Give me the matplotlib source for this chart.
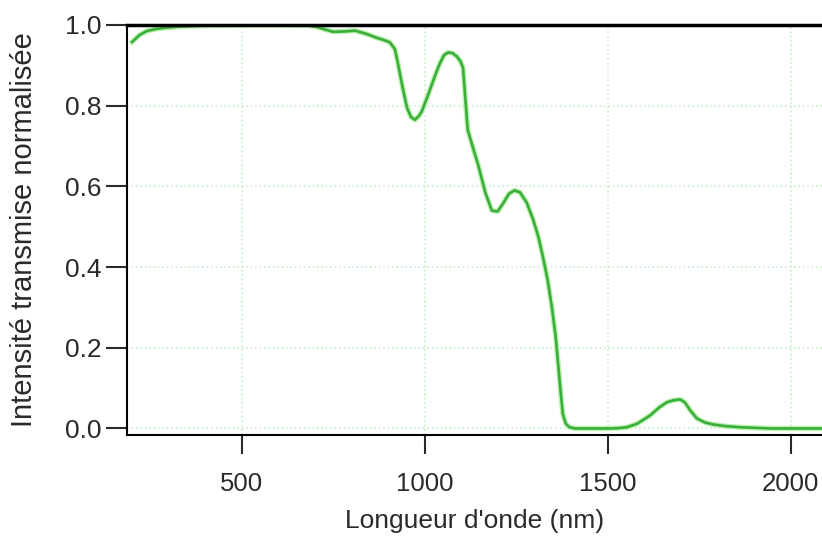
"""Spectre de transmission normalisée."""
import numpy as np
import matplotlib
matplotlib.use("Agg")
import matplotlib.pyplot as plt

plt.rcParams['font.family'] = ['Liberation Sans', 'DejaVu Sans']

# longueur d'onde (nm) et intensité
wavelength = [200, 220, 240, 265, 290, 330, 385, 500, 600, 680, 705, 730,
              749, 780, 809, 840, 869, 890, 904, 918, 926, 938, 951, 962,
              973, 984, 992, 1010, 1030, 1041, 1052, 1063, 1076, 1087, 1097,
              1104, 1117, 1130, 1145, 1165, 1183, 1199, 1215, 1230, 1245,
              1260, 1278, 1295, 1310, 1322, 1335, 1347, 1357, 1364, 1371,
              1377, 1385, 1395, 1410, 1450, 1500, 1530, 1552, 1580, 1615,
              1640, 1661, 1680, 1697, 1710, 1725, 1743, 1765, 1787, 1820,
              1861, 1950, 2100]
intensity = [0.958, 0.975, 0.985, 0.99, 0.993, 0.996, 0.998, 1.0, 1.0,
             0.999, 0.995, 0.988, 0.983, 0.984, 0.986, 0.978, 0.968, 0.962,
             0.957, 0.94, 0.906, 0.85, 0.795, 0.772, 0.765, 0.775, 0.787,
             0.83, 0.88, 0.905, 0.925, 0.932, 0.93, 0.922, 0.91, 0.895,
             0.74, 0.7, 0.655, 0.585, 0.54, 0.538, 0.56, 0.582, 0.59, 0.585,
             0.56, 0.52, 0.475, 0.427, 0.37, 0.3, 0.23, 0.16, 0.09, 0.035,
             0.012, 0.003, 0.0, 0.0, 0.0, 0.001, 0.003, 0.012, 0.032, 0.052,
             0.065, 0.07, 0.072, 0.065, 0.045, 0.025, 0.015, 0.01, 0.006,
             0.003, 0.0, 0.0]

xticks = [500, 1000, 1500, 2000]
yticks = [0.0, 0.2, 0.4, 0.6, 0.8, 1.0]

fig = plt.figure(figsize=(8.22, 5.43), dpi=100)
ax = fig.add_axes([0.1545, 0.199, 0.8455, 0.755])

ax.plot(wavelength, intensity, color='#bdf0b0', lw=3.8,
        solid_joinstyle='round')
ax.plot(wavelength, intensity, color='#3aae3a', lw=1.9,
        solid_joinstyle='round')

ax.set_xlim(186, 2085)
ax.set_ylim(-0.016, 1.0)
ax.set_xticks(xticks)
ax.set_yticks(yticks)
ax.set_yticklabels([f"{v:.1f}" for v in yticks])

ax.grid(True, color='#c6efc6', linestyle=':', lw=1.2)
ax.set_axisbelow(True)

ax.spines['right'].set_visible(False)
ax.spines['top'].set_linewidth(2.5)
ax.spines['left'].set_linewidth(1.5)
ax.spines['bottom'].set_linewidth(1.5)
ax.tick_params(axis='x', direction='out', length=14, width=1.5,
               labelsize=18.5, pad=13, colors='#2a2a2a')
ax.tick_params(axis='y', direction='out', length=15, width=1.5,
               labelsize=19, pad=3, colors='#2a2a2a')

ax.set_xlabel("Longueur d'onde (nm)", fontsize=19, color='#2a2a2a',
              labelpad=9)
ax.set_ylabel("Intensité transmise normalisée", fontsize=21,
              color='#2a2a2a', labelpad=20)

fig.savefig("out.png", dpi=100)
